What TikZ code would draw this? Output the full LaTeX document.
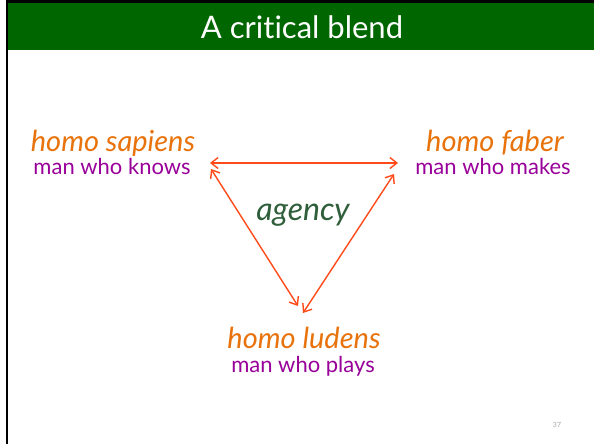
\documentclass[tikz,border=0pt]{standalone}
\usepackage{fontspec}
\setmainfont[Ligatures={NoCommon}]{Lato}
\usetikzlibrary{arrows.meta}
\definecolor{barGreen}{HTML}{006600}
\definecolor{homoOrange}{HTML}{E8730C}
\definecolor{manPurple}{HTML}{990099}
\definecolor{agencyGreen}{HTML}{2F5F3A}
\definecolor{arrowRed}{HTML}{FF4A1A}
\tikzset{
  homo/.style={text=homoOrange, font=\fontsize{29}{32}\selectfont\itshape, inner sep=0pt, anchor=base},
  man/.style={text=manPurple, font=\fontsize{22}{25}\selectfont, inner sep=0pt, anchor=base},
  link/.style={draw=arrowRed, line width=1.4pt, {Straight Barb[length=7pt,width=11pt]}-{Straight Barb[length=7pt,width=11pt]}}
}
\begin{document}
\begin{tikzpicture}[x=1pt,y=-1pt]
\useasboundingbox (0,0) rectangle (594,444);
\fill[white] (0,0) rectangle (594,444);
\fill[barGreen] (7,3) rectangle (594,50);
\draw[black, line width=2.5pt] (6,1.5) -- (594,1.5);
\draw[black, line width=2.5pt] (7,0) -- (7,444);
\node[text=white, font=\fontsize{31}{34}\selectfont, inner sep=0pt, anchor=base] (title) at (302,38) {A critical blend};
\node[homo] (hs) at (113,151) {homo sapiens};
\node[man] (mk) at (112,174) {man who knows};
\node[homo] (hf) at (495,151) {homo faber};
\node[man] (mm) at (493,174) {man who makes};
\node[homo] (hl) at (304,348) {homo ludens};
\node[man] (mp) at (303,372) {man who plays};
\node[text=agencyGreen, font=\fontsize{32}{35}\selectfont\itshape, inner sep=0pt, anchor=base] (ag) at (303,220) {agency};
\coordinate (h1) at (210,163);
\coordinate (h2) at (398,163);
\coordinate (l1) at (211,169);
\coordinate (l2) at (298,306);
\coordinate (r1) at (303,313);
\coordinate (r2) at (394,174);
\draw[link] (h1) -- (h2);
\draw[link] (l1) -- (l2);
\draw[link] (r1) -- (r2);
\node[text=gray!70, font=\fontsize{7}{8}\selectfont, inner sep=0pt] (pg) at (557,425) {37};
\end{tikzpicture}
\end{document}
